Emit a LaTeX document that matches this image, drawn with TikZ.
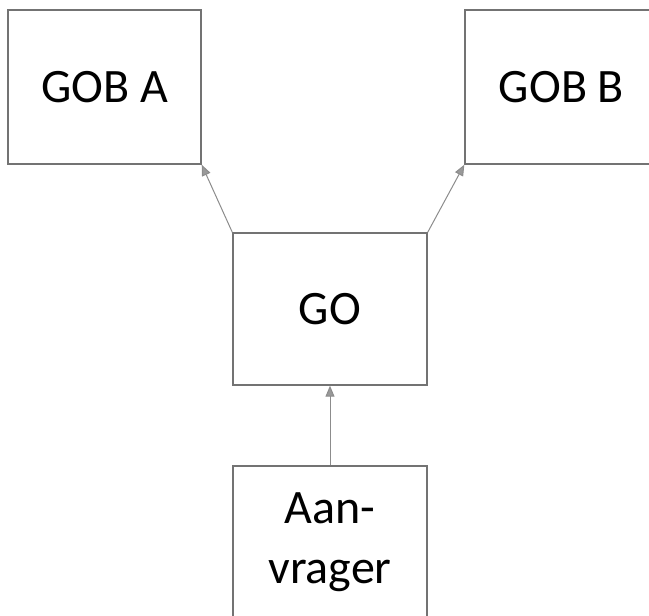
\documentclass[tikz,border=0pt]{standalone}
\usepackage{fontspec}
\setmainfont{Carlito}
\usetikzlibrary{arrows.meta}
\begin{document}
\begin{tikzpicture}[x=1pt,y=1pt,
  box/.style={draw=black!55,line width=1.4pt,minimum width=193pt,minimum height=154pt,inner sep=0pt,align=center,font=\fontsize{48}{60}\selectfont},
  conn/.style={draw=black!45,line width=1pt,-{Triangle[length=11pt,width=9pt,fill=black!40]}}]
\useasboundingbox (0,0) rectangle (649,616);
\node[box] (goba) at (104.5,529) {GOB A};
\node[box] (gobb) at (561.5,529) {GOB B};
\node[box,minimum width=194pt,minimum height=152pt] (go) at (330,307) {GO};
\node[box,minimum width=194pt,minimum height=152pt] (aan) at (330,74) {Aan-\\vrager};
\draw[conn] (go.north west) -- (goba.south east);
\draw[conn] (go.north east) -- (gobb.south west);
\draw[conn] (aan.north) -- (go.south);
\end{tikzpicture}
\end{document}
